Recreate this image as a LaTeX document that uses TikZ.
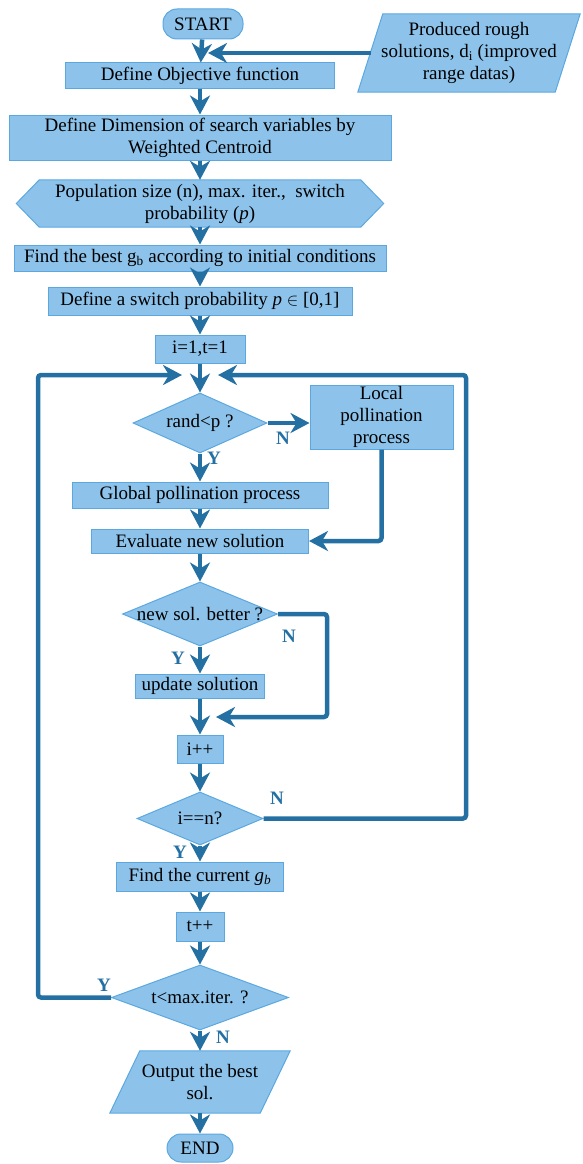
\documentclass[tikz,border=0pt]{standalone}
\usepackage{fontspec}
\setmainfont{Liberation Serif}
\usetikzlibrary{arrows.meta,shapes.geometric,backgrounds,calc}
\definecolor{fillc}{HTML}{8DC3EB}
\definecolor{bordc}{HTML}{5BA8E0}
\definecolor{linec}{HTML}{2470A3}
\newcommand\mainfs{\fontsize{19}{22}\selectfont}
\tikzset{
  box/.style={draw=bordc, line width=1pt, fill=fillc, inner sep=0pt, align=center, font=\mainfs},
  term/.style={box, rounded corners=14pt},
  dia/.style={box, shape=diamond},
  txt/.style={inner sep=0pt, align=center, font=\mainfs},
  shapeline/.style={draw=bordc, line width=1pt, fill=fillc},
  flow/.style={draw=linec, line width=4.5pt, rounded corners=3pt,
    -{Stealth[length=19pt,width=20pt,inset=6pt]}},
  lab/.style={font=\mainfs\bfseries, text=linec, inner sep=0pt}
}
\begin{document}
\begin{tikzpicture}[x=1pt,y=-1pt]
\useasboundingbox (0,0) rectangle (582,1164);
% nodes
\node[term, minimum width=80pt, minimum height=30pt] (start) at (203,24) {START};
\node[txt, minimum width=222pt, minimum height=78pt] (inp) at (469,53) {Produced rough\\solutions, d\textsubscript{i} (improved\\range datas)};
\node[box, minimum width=269pt, minimum height=25pt] (obj) at (200,75.5) {Define Objective function};
\node[box, minimum width=382pt, minimum height=45pt] (dim) at (200,137.5) {Define Dimension of search variables by\\Weighted Centroid};
\node[txt, minimum width=367pt, minimum height=47pt] (pop) at (200,203.5) {Population size (n), max. iter.,~ switch\\probability (\textit{p})};
\node[box, minimum width=372pt, minimum height=26pt] (best) at (200,258) {Find the best g\textsubscript{b} according to initial conditions};
\node[box, minimum width=304pt, minimum height=28pt] (sw) at (200,301) {Define a switch probability \textit{p} $\in$ [0,1]};
\node[box, minimum width=90pt, minimum height=28pt] (init) at (200,349) {i=1,t=1};
\node[dia, minimum width=134pt, minimum height=60pt] (d1) at (200,423) {\makebox[0pt]{rand<p ?}};
\node[box, minimum width=143pt, minimum height=64pt] (loc) at (381.5,417) {Local\\pollination\\process};
\node[box, minimum width=256pt, minimum height=26pt] (glob) at (200,495) {Global pollination process};
\node[box, minimum width=217pt, minimum height=24pt] (eval) at (200,541) {Evaluate new solution};
\node[dia, minimum width=155pt, minimum height=64pt] (d2) at (200,614) {\makebox[0pt]{new sol. better ?}};
\node[box, minimum width=129pt, minimum height=24pt] (upd) at (200,686) {update solution};
\node[box, minimum width=46pt, minimum height=28pt] (inc) at (200,749) {i++};
\node[dia, minimum width=126pt, minimum height=53pt] (d3) at (200,818.5) {\makebox[0pt]{i==n?}};
\node[box, minimum width=167pt, minimum height=29pt] (cur) at (200,876.5) {Find the current \textit{g\textsubscript{b}}};
\node[box, minimum width=48pt, minimum height=29pt] (tinc) at (200,926.5) {t++};
\node[dia, minimum width=177pt, minimum height=65pt] (d4) at (200,997.5) {\makebox[0pt]{t<max.iter. ?}};
\node[txt, minimum width=180pt, minimum height=62pt] (out) at (200,1082) {Output the best\\sol.};
\node[term, minimum width=66pt, minimum height=28pt] (end) at (200,1148) {END};
% hand drawn outlines
\begin{pgfonlayer}{background}
\path[shapeline] ([xshift=25pt]inp.north west) -- (inp.north east) -- ([xshift=-25pt]inp.south east) -- (inp.south west) -- cycle;
\path[shapeline] (pop.west) -- ([xshift=23pt]pop.north west) -- ([xshift=-23pt]pop.north east) -- (pop.east) -- ([xshift=-23pt]pop.south east) -- ([xshift=23pt]pop.south west) -- cycle;
\path[shapeline] ([xshift=30pt]out.north west) -- (out.north east) -- ([xshift=-30pt]out.south east) -- (out.south west) -- cycle;
\end{pgfonlayer}
% junction coordinates
\coordinate (inpw) at (370.5,53);
\coordinate (j1) at (208,53);
\coordinate (j2) at (216,717);
\coordinate (j3) at (218,375);
\coordinate (j4) at (182,375);
\coordinate (r2) at (327,717);
\coordinate (r3) at (466,375);
\coordinate (l4) at (38,375);
% connectors
\draw[flow] (start) -- (obj);
\draw[flow] (inpw) -- (j1);
\draw[flow] (obj) -- (dim);
\draw[flow] (dim) -- (pop);
\draw[flow] (pop) -- (best);
\draw[flow] (best) -- (sw);
\draw[flow] (sw) -- (init);
\draw[flow] (init) -- (d1);
\draw[flow] (d1.east) -- (d1.east -| loc.west);
\draw[flow] (d1) -- (glob);
\draw[flow] (glob) -- (eval);
\draw[flow] (loc.south) |- (eval.east);
\draw[flow] (eval) -- (d2);
\draw[flow] (d2) -- (upd);
\draw[flow] (d2.east) -| (r2) -- (j2);
\draw[flow] (upd) -- (inc);
\draw[flow] (inc) -- (d3);
\draw[flow] (d3) -- (cur);
\draw[flow] (d3.east) -| (r3) -- (j3);
\draw[flow] (cur) -- (tinc);
\draw[flow] (tinc) -- (d4);
\draw[flow] (d4.west) -| (l4) -- (j4);
\draw[flow] (d4) -- (out);
\draw[flow] (out) -- (end);
% labels
\node[lab] (n1) at (283,438) {N};
\node[lab] (y1) at (214,458) {Y};
\node[lab] (n2) at (289,636) {N};
\node[lab] (y2) at (178,658) {Y};
\node[lab] (n3) at (277,798) {N};
\node[lab] (y3) at (180,852) {Y};
\node[lab] (y4) at (104,985) {Y};
\node[lab] (n4) at (223,1037) {N};
\end{tikzpicture}
\end{document}
